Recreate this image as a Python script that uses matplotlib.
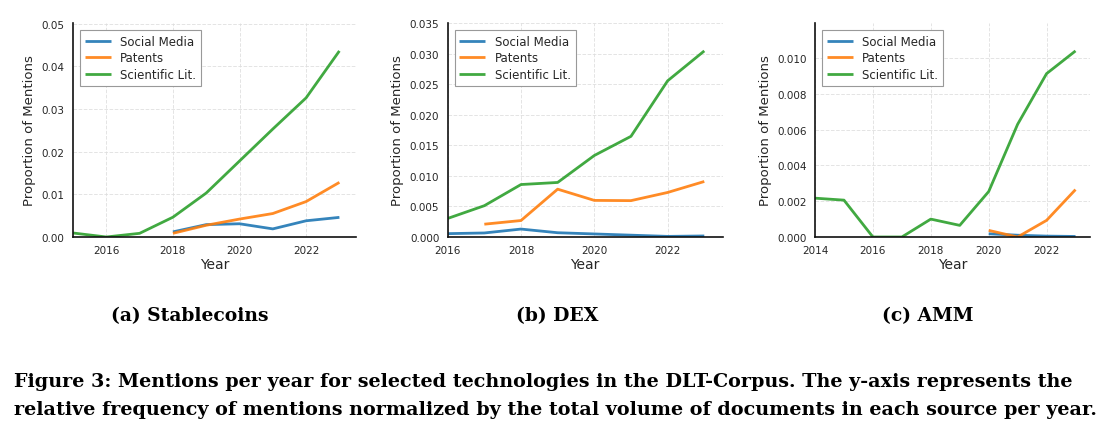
import numpy as np
import matplotlib
matplotlib.use("Agg")
import matplotlib.pyplot as plt

# ---------------- data ----------------
years_a = [2015, 2016, 2017, 2018, 2019, 2020, 2021, 2022, 2023]
sci_a = [0.00094, 0.0, 0.00086, 0.00464, 0.0103, 0.0178, 0.0253, 0.0326, 0.0436]
pat_years_a = [2018, 2019, 2020, 2021, 2022, 2023]
pat_a = [0.00086, 0.00275, 0.0042, 0.0055, 0.0083, 0.0128]
soc_years_a = [2018, 2019, 2020, 2021, 2022, 2023]
soc_a = [0.0012, 0.0029, 0.0031, 0.0019, 0.0038, 0.0046]

years_b = [2016, 2017, 2018, 2019, 2020, 2021, 2022, 2023]
sci_b = [0.00304, 0.00513, 0.0086, 0.00894, 0.01336, 0.0165, 0.0256, 0.0305]
pat_years_b = [2017, 2018, 2019, 2020, 2021, 2022, 2023]
pat_b = [0.0021, 0.0027, 0.00784, 0.0060, 0.00596, 0.0073, 0.0091]
soc_years_b = [2016, 2017, 2018, 2019, 2020, 2021, 2022, 2023]
soc_b = [0.00055, 0.00066, 0.0013, 0.0007, 0.0005, 0.0003, 0.0001, 0.00017]

years_c = [2014, 2015, 2016, 2017, 2018, 2019, 2020, 2021, 2022, 2023]
sci_c = [0.00217, 0.00206, 0.0, 0.0, 0.0010, 0.00065, 0.00254, 0.0063, 0.00913, 0.0104]
pat_years_c = [2020, 2021, 2022, 2023]
pat_c = [0.00037, 0.0, 0.00093, 0.00265]
soc_years_c = [2020, 2021, 2022, 2023]
soc_c = [0.00018, 0.0001, 0.00005, 0.00003]

series_names = ["Social Media", "Patents", "Scientific Lit."]
subcaptions = ["(a) Stablecoins", "(b) DEX", "(c) AMM"]
caption_lines = [
    "Figure 3: Mentions per year for selected technologies in the DLT-Corpus. The y-axis represents the",
    "relative frequency of mentions normalized by the total volume of documents in each source per year.",
]

colors = ["#1f77b4", "#ff7f0e", "#2ca02c"]
text_col = "#262626"

fig = plt.figure(figsize=(11.2, 4.39), dpi=100)

panels = [
    (0.0652, 0.2527, (soc_years_a, soc_a), (pat_years_a, pat_a), (years_a, sci_a)),
    (0.3997, 0.2455, (soc_years_b, soc_b), (pat_years_b, pat_b), (years_b, sci_b)),
    (0.7277, 0.2455, (soc_years_c, soc_c), (pat_years_c, pat_c), (years_c, sci_c)),
]
bottom = 1 - 238 / 439
top = 1 - 24 / 439

for i, (left, width, soc, pat, sci) in enumerate(panels):
    ax = fig.add_axes([left, bottom, width, top - bottom])
    for (xs, ys), c, name in zip([soc, pat, sci], colors, series_names):
        ax.plot(xs, ys, color=c, lw=2.0, alpha=0.9, label=name, solid_capstyle="butt")
    ax.set_xlim(min(sci[0]), 2023.5)
    ax.set_ylim(0, max(sci[1]) * 1.15)
    ax.set_xticks([t for t in range(2014, 2024, 2) if t >= min(sci[0])])
    ax.grid(True, ls="--", color="#dddddd", lw=0.7, alpha=0.8)
    ax.set_axisbelow(True)
    for s in ["top", "right"]:
        ax.spines[s].set_visible(False)
    for s in ["left", "bottom"]:
        ax.spines[s].set_color("#111111")
        ax.spines[s].set_linewidth(1.2)
    ax.tick_params(length=0, labelsize=7.5, colors=text_col, pad=6)
    ax.set_xlabel("Year", fontsize=10, color=text_col, labelpad=1)
    ax.set_ylabel("Proportion of Mentions", fontsize=9.5, color=text_col, labelpad=4)
    leg = ax.legend(loc="upper left", fontsize=8.5, frameon=True, fancybox=False,
                    edgecolor="#999999", framealpha=1, handlelength=2.2,
                    borderpad=0.4, labelspacing=0.3, borderaxespad=0.6)
    leg.get_frame().set_linewidth(0.8)
    for t in leg.get_texts():
        t.set_color(text_col)

centers = [190, 557, 928]
for cx, sc in zip(centers, subcaptions):
    fig.text(cx / 1120, 1 - 316 / 439, sc, ha="center", va="center",
             fontsize=13.5, fontweight="bold", family="DejaVu Serif", color="black")

for j, line in enumerate(caption_lines):
    fig.text(14 / 1120, 1 - (382 + j * 28) / 439, line, ha="left", va="center",
             fontsize=13.8, fontweight="bold", family="DejaVu Serif", color="black")

fig.savefig("out.png", dpi=100)
